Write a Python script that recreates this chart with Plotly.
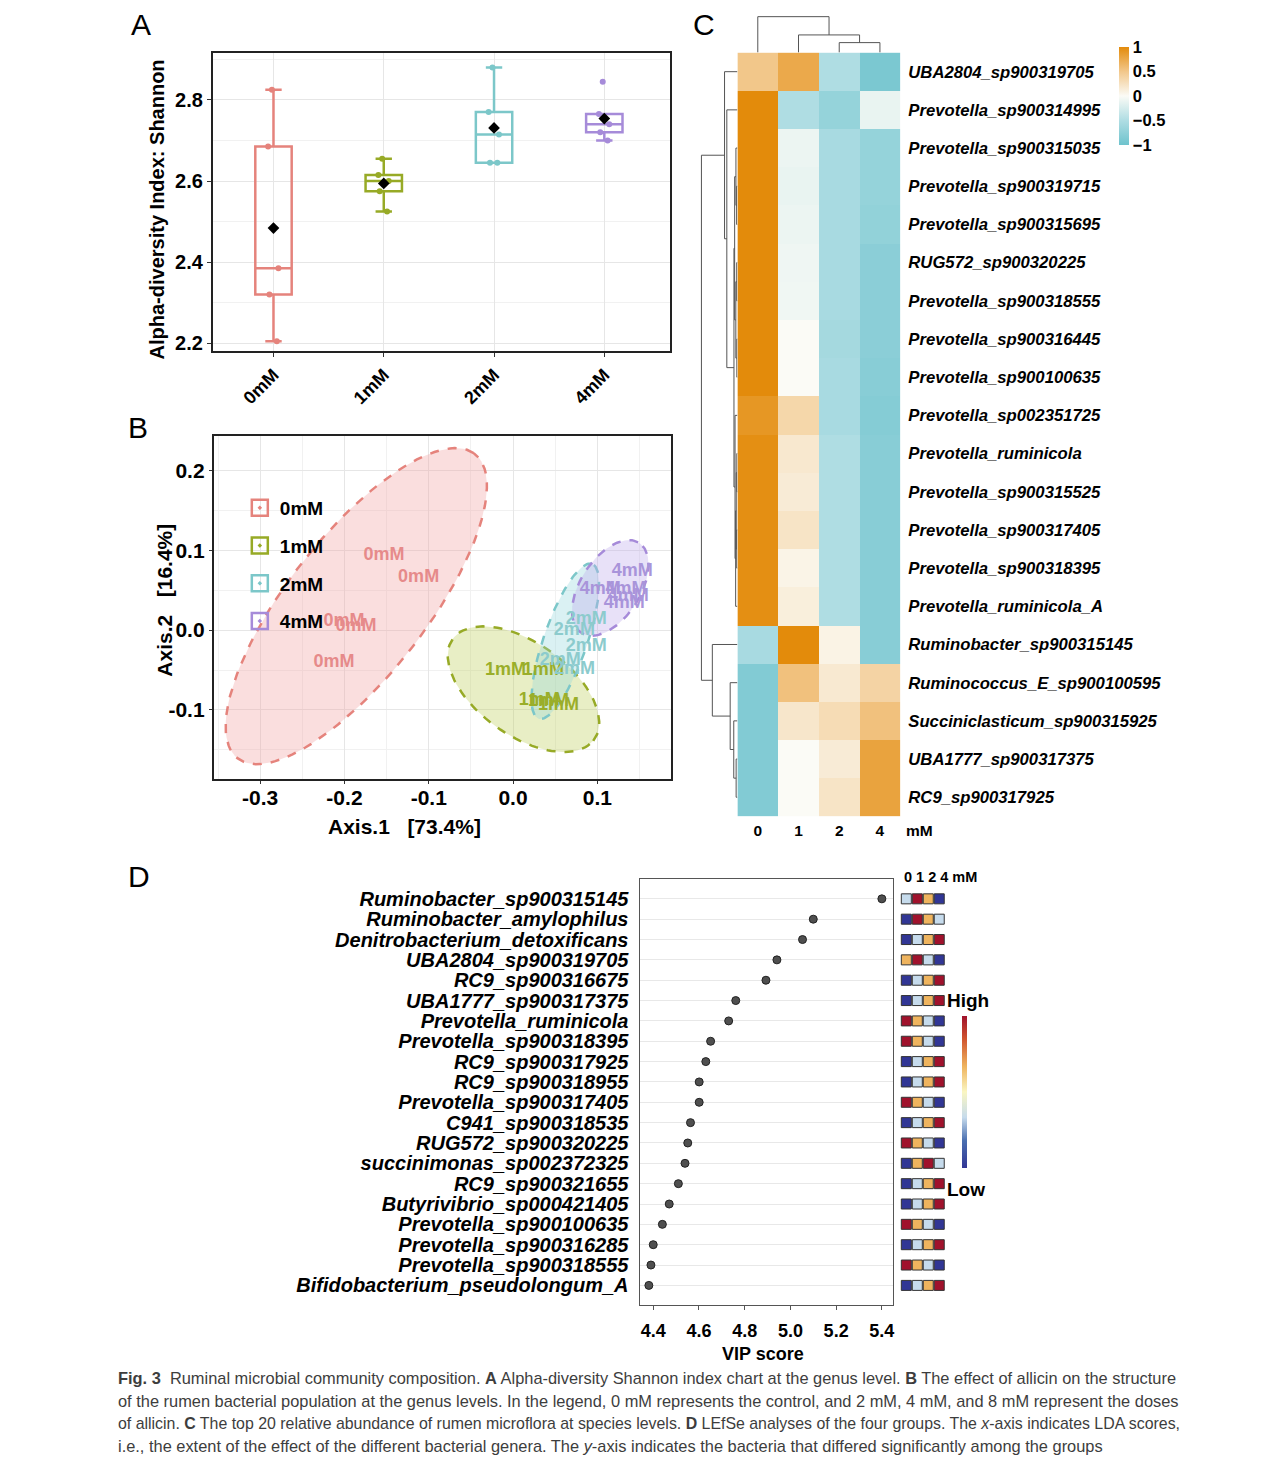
import numpy as np
import plotly.graph_objects as go

W, H = 1280, 1469


def fx(p):
    return p / W


def fy(p):
    return 1 - p / H


FONT = "Liberation Sans, Arial, sans-serif"

groups = ['0mM', '1mM', '2mM', '4mM']
group_colors = ['#E5837C', '#97AA26', '#7CC7C9', '#A68BD9']
text_colors = ['#E68A8A', '#9AAE2A', '#8CCBCD', '#A994DA']
fill_colors = ['rgba(240,160,160,0.35)', 'rgba(190,205,90,0.35)',
               'rgba(150,215,220,0.35)', 'rgba(190,170,235,0.35)']

# ---- A: Shannon index per sample
shannon_0mM = [2.205, 2.32, 2.385, 2.685, 2.825]
shannon_1mM = [2.525, 2.575, 2.60, 2.615, 2.655]
shannon_2mM = [2.645, 2.645, 2.715, 2.77, 2.88]
shannon_4mM = [2.70, 2.72, 2.74, 2.765, 2.845]
shannon = [shannon_0mM, shannon_1mM, shannon_2mM, shannon_4mM]

# ---- B: PCoA sample positions (labels drawn at the points)
pcoa_x = [
    [-0.153, -0.112, -0.2006, -0.1864, -0.2124],
    [-0.009, 0.036, 0.031, 0.042, 0.054],
    [0.087, 0.0728, 0.087, 0.056, 0.073],
    [0.1414, 0.1036, 0.134, 0.1367, 0.132],
]
pcoa_y = [
    [0.093, 0.066, 0.011, 0.0046, -0.040],
    [-0.0508, -0.0508, -0.088, -0.090, -0.094],
    [0.0134, 0.0, -0.020, -0.038, -0.049],
    [0.0734, 0.051, 0.051, 0.042, 0.033],
]
pcoa_xticks = [-0.3, -0.2, -0.1, 0.0, 0.1]
pcoa_yticks = [-0.1, 0.0, 0.1, 0.2]
# confidence ellipses: centre, semi axes, angle (deg)
ell_cx = [-0.186, 0.0124, 0.062, 0.1154]
ell_cy = [0.030, -0.074, -0.014, 0.0528]
ell_a = [0.237, 0.105, 0.102, 0.066]
ell_b = [0.084, 0.057, 0.026, 0.036]
ell_ang = [54, -38, 72, 60]

# ---- C: heatmap of top 20 species (row z-scores)
heat_cols = ['0', '1', '2', '4']
heat_rows = [
    'UBA2804_sp900319705', 'Prevotella_sp900314995', 'Prevotella_sp900315035',
    'Prevotella_sp900319715', 'Prevotella_sp900315695', 'RUG572_sp900320225',
    'Prevotella_sp900318555', 'Prevotella_sp900316445', 'Prevotella_sp900100635',
    'Prevotella_sp002351725', 'Prevotella_ruminicola', 'Prevotella_sp900315525',
    'Prevotella_sp900317405', 'Prevotella_sp900318395', 'Prevotella_ruminicola_A',
    'Ruminobacter_sp900315145', 'Ruminococcus_E_sp900100595',
    'Succiniclasticum_sp900315925', 'UBA1777_sp900317375', 'RC9_sp900317925',
]
heat_z = [
    [0.5, 0.75, -0.5, -0.9],
    [1.0, -0.5, -0.7, -0.12],
    [1.0, -0.1, -0.55, -0.7],
    [1.0, -0.12, -0.55, -0.7],
    [1.0, -0.1, -0.55, -0.72],
    [1.0, -0.08, -0.55, -0.78],
    [1.0, -0.07, -0.55, -0.78],
    [1.0, 0.0, -0.58, -0.78],
    [1.0, 0.0, -0.55, -0.8],
    [0.9, 0.35, -0.55, -0.82],
    [0.97, 0.18, -0.5, -0.8],
    [0.97, 0.15, -0.5, -0.8],
    [0.97, 0.22, -0.5, -0.8],
    [0.97, 0.07, -0.5, -0.8],
    [0.97, 0.12, -0.5, -0.8],
    [-0.55, 1.0, 0.08, -0.8],
    [-0.85, 0.55, 0.17, 0.38],
    [-0.85, 0.2, 0.3, 0.55],
    [-0.85, 0.0, 0.15, 0.8],
    [-0.85, 0.0, 0.22, 0.8],
]
# hierarchical clustering merges: (left, right, height)
row_merges = [
    (3, 4, 0.8), (2, 20, 1.5), (5, 6, 0.7), (7, 8, 0.6), (22, 23, 1.6),
    (21, 24, 2.8), (10, 11, 0.6), (12, 13, 0.7), (26, 27, 1.2), (28, 14, 1.8),
    (9, 29, 2.4), (25, 30, 3.5), (1, 31, 10.7), (0, 32, 13.0), (18, 19, 1.3),
    (17, 34, 3.7), (16, 35, 7.3), (15, 36, 25.3), (33, 37, 36.3),
]
col_merges = [(2, 3, 10.0), (1, 4, 17.7), (0, 5, 36.0)]

# ---- D: VIP scores and group ranks (1 = low, 4 = high)
vip_taxa = [
    'Ruminobacter_sp900315145', 'Ruminobacter_amylophilus',
    'Denitrobacterium_detoxificans', 'UBA2804_sp900319705', 'RC9_sp900316675',
    'UBA1777_sp900317375', 'Prevotella_ruminicola', 'Prevotella_sp900318395',
    'RC9_sp900317925', 'RC9_sp900318955', 'Prevotella_sp900317405',
    'C941_sp900318535', 'RUG572_sp900320225', 'succinimonas_sp002372325',
    'RC9_sp900321655', 'Butyrivibrio_sp000421405', 'Prevotella_sp900100635',
    'Prevotella_sp900316285', 'Prevotella_sp900318555',
    'Bifidobacterium_pseudolongum_A',
]
vip_score = [5.40, 5.10, 5.053, 4.941, 4.893, 4.761, 4.730, 4.651, 4.630, 4.601,
             4.601, 4.563, 4.551, 4.539, 4.510, 4.47, 4.44, 4.40, 4.39, 4.381]
vip_rank = [
    [2, 4, 3, 1], [1, 4, 3, 2], [1, 2, 3, 4], [3, 4, 2, 1], [1, 2, 3, 4],
    [1, 2, 3, 4], [4, 3, 2, 1], [4, 3, 2, 1], [1, 2, 3, 4], [1, 2, 3, 4],
    [4, 3, 2, 1], [1, 2, 3, 4], [4, 3, 2, 1], [1, 3, 4, 2], [1, 2, 3, 4],
    [1, 2, 3, 4], [4, 3, 2, 1], [1, 2, 3, 4], [4, 3, 2, 1], [1, 2, 3, 4],
]
rank_cols = ['0', '1', '2', '4']

caption_lines = [
    "<b>Fig. 3</b>  Ruminal microbial community composition. <b>A</b> Alpha-diversity Shannon index chart at the genus level. <b>B</b> The effect of allicin on the structure",
    "of the rumen bacterial population at the genus levels. In the legend, 0 mM represents the control, and 2 mM, 4 mM, and 8 mM represent the doses",
    "of allicin. <b>C</b> The top 20 relative abundance of rumen microflora at species levels. <b>D</b> LEfSe analyses of the four groups. The <i>x</i>-axis indicates LDA scores,",
    "i.e., the extent of the effect of the different bacterial genera. The <i>y</i>-axis indicates the bacteria that differed significantly among the groups",
]
caption_sizes = [16.4, 16.4, 15.9, 16.4]


def ellipse_path(cx, cy, a, b, ang, n=120):
    t = np.linspace(0, 2 * np.pi, n)
    th = np.radians(ang)
    x = cx + a * np.cos(t) * np.cos(th) - b * np.sin(t) * np.sin(th)
    y = cy + a * np.cos(t) * np.sin(th) + b * np.sin(t) * np.cos(th)
    return x, y


def dendro_links(merges, n_leaves):
    pos = {i: float(i) for i in range(n_leaves)}
    hgt = {i: 0.0 for i in range(n_leaves)}
    hs, ps = [], []
    for k, (l, r, h) in enumerate(merges):
        hs += [hgt[l], h, h, hgt[r], None]
        ps += [pos[l], pos[l], pos[r], pos[r], None]
        pos[n_leaves + k] = (pos[l] + pos[r]) / 2
        hgt[n_leaves + k] = h
    return hs, ps


fig = go.Figure()

# ---------------- A
for g, vals, c in zip(groups, shannon, group_colors):
    fig.add_trace(go.Box(
        x=[g] * len(vals), y=vals, name=g, xaxis='x', yaxis='y',
        quartilemethod='inclusive',
        boxpoints='all', jitter=0.35, pointpos=0, width=0.33, whiskerwidth=0.45,
        fillcolor='rgba(255,255,255,0)', line=dict(color=c, width=2.5),
        marker=dict(color=c, size=6), showlegend=False,
    ))
fig.add_trace(go.Scatter(
    x=groups, y=[float(np.mean(v)) for v in shannon], mode='markers',
    marker=dict(symbol='diamond', size=9, color='black'),
    xaxis='x', yaxis='y', showlegend=False,
))

# ---------------- B
for i, g in enumerate(groups):
    ex, ey = ellipse_path(ell_cx[i], ell_cy[i], ell_a[i], ell_b[i], ell_ang[i])
    fig.add_trace(go.Scatter(
        x=ex, y=ey, mode='lines', fill='toself', fillcolor=fill_colors[i],
        line=dict(color=group_colors[i], width=2.5, dash='dash'),
        xaxis='x2', yaxis='y2', showlegend=False, hoverinfo='skip',
    ))
for i, g in enumerate(groups):
    fig.add_trace(go.Scatter(
        x=pcoa_x[i], y=pcoa_y[i], mode='text', text=[g] * len(pcoa_x[i]),
        textfont=dict(family=FONT, size=18, color=text_colors[i], weight='bold'),
        xaxis='x2', yaxis='y2', showlegend=False,
    ))
    fig.add_trace(go.Scatter(
        x=[None], y=[None], mode='markers', name=g, legendgroup=g,
        marker=dict(symbol='square-open-dot', size=16, color=group_colors[i],
                    line=dict(width=2.5, color=group_colors[i])),
        xaxis='x2', yaxis='y2', showlegend=True,
    ))

# ---------------- C
fig.add_trace(go.Heatmap(
    z=heat_z, x=list(range(len(heat_cols))), y=list(range(len(heat_rows))),
    zmin=-1, zmax=1, xaxis='x3', yaxis='y3',
    colorscale=[[0, '#6EC3CD'], [0.25, '#AFDDE3'], [0.5, '#FBFBF6'],
                [0.75, '#F2C78A'], [1, '#E38B0B']],
    colorbar=dict(x=fx(1120), xanchor='left', y=fy(96), yanchor='middle',
                  len=98, lenmode='pixels', thickness=10, outlinewidth=0,
                  ypad=0, xpad=0,
                  tickvals=[-1, -0.5, 0, 0.5, 1],
                  ticktext=['\u22121', '\u22120.5', '0', '0.5', '1'],
                  ticks='',
                  tickfont=dict(family=FONT, size=16.5, color='black', weight='bold')),
))
rh, rp = dendro_links(row_merges, len(heat_rows))
fig.add_trace(go.Scatter(x=rh, y=rp, mode='lines', line=dict(color='#555', width=1),
                         xaxis='x4', yaxis='y4', showlegend=False, hoverinfo='skip'))
ch, cp = dendro_links(col_merges, len(heat_cols))
fig.add_trace(go.Scatter(x=cp, y=ch, mode='lines', line=dict(color='#555', width=1),
                         xaxis='x5', yaxis='y5', showlegend=False, hoverinfo='skip'))

# ---------------- D
fig.add_trace(go.Scatter(
    x=vip_score, y=list(range(len(vip_taxa))), mode='markers',
    marker=dict(size=8, color='#4F4F4F', line=dict(color='#222', width=1)),
    xaxis='x6', yaxis='y6', showlegend=False,
))
sq_x, sq_y, sq_c = [], [], []
for r, ranks in enumerate(vip_rank):
    for c, v in enumerate(ranks):
        sq_x.append(c)
        sq_y.append(r)
        sq_c.append(v)
fig.add_trace(go.Scatter(
    x=sq_x, y=sq_y, mode='markers', xaxis='x7', yaxis='y7', showlegend=False,
    marker=dict(symbol='square', size=10, color=sq_c, cmin=1, cmax=4,
                line=dict(color='#333', width=1),
                colorscale=[[0, '#313695'], [0.18, '#4A6FB0'], [0.333, '#C6DBEC'],
                            [0.5, '#FAF6C2'], [0.667, '#EFB45E'], [0.85, '#D0542E'],
                            [1, '#A0122C']],
                showscale=True,
                colorbar=dict(x=fx(963), xanchor='left', y=fy(1094), yanchor='middle',
                              len=152, lenmode='pixels', thickness=5, outlinewidth=0,
                              xpad=0, ypad=0, showticklabels=False, ticks='')),
))

# ---------------- axes
grid = '#E6E6E6'
minor_grid = '#F1F1F1'
bold = dict(family=FONT, color='black', weight='bold')

fig.update_layout(
    width=W, height=H, margin=dict(l=0, r=0, t=0, b=0),
    paper_bgcolor='white', plot_bgcolor='white',
    font=dict(family=FONT, color='black'),
    xaxis=dict(domain=[fx(213), fx(671)], type='category', categoryorder='array',
               categoryarray=groups, range=[-0.55, 3.6], showgrid=True, gridcolor=grid,
               showline=True, mirror=True, linecolor='#222', linewidth=2,
               ticks='outside', ticklen=4, tickcolor='#333', tickangle=-45,
               tickfont=dict(size=18, **bold), zeroline=False),
    yaxis=dict(domain=[fy(352), fy(53)], range=[2.18, 2.916], tick0=2.2, dtick=0.2,
               tickformat='.1f', showgrid=True, gridcolor=grid,
               minor=dict(dtick=0.1, showgrid=True, gridcolor=minor_grid),
               showline=True, mirror=True, linecolor='#222', linewidth=2,
               ticks='outside', ticklen=4, tickcolor='#333',
               tickfont=dict(size=20, **bold), zeroline=False),
    xaxis2=dict(domain=[fx(214), fx(672)], anchor='y2', range=[-0.355, 0.188],
                tickvals=pcoa_xticks, ticktext=['%.1f' % v for v in pcoa_xticks],
                showgrid=True, gridcolor=grid,
                minor=dict(dtick=0.05, tick0=0, showgrid=True, gridcolor=minor_grid),
                showline=True, mirror=True, linecolor='#222', linewidth=2,
                ticks='outside', ticklen=3, tickcolor='#333', ticklabelstandoff=-5,
                tickfont=dict(size=21, **bold), zeroline=False),
    yaxis2=dict(domain=[fy(781), fy(437)], anchor='x2', range=[-0.187, 0.243],
                tickvals=pcoa_yticks, ticktext=['%.1f' % v for v in pcoa_yticks],
                showgrid=True, gridcolor=grid,
                minor=dict(dtick=0.05, tick0=0, showgrid=True, gridcolor=minor_grid),
                showline=True, mirror=True, linecolor='#222', linewidth=2,
                ticks='outside', ticklen=3, tickcolor='#333',
                tickfont=dict(size=21, **bold), zeroline=False),
    xaxis3=dict(domain=[fx(738), fx(901)], anchor='y3', range=[-0.5, 3.5],
                tickvals=list(range(len(heat_cols))), ticktext=heat_cols,
                showgrid=False, zeroline=False, ticks='', ticklabelstandoff=3,
                tickfont=dict(size=15.5, **bold)),
    yaxis3=dict(domain=[fy(818), fy(52.7)], anchor='x3', range=[19.5, -0.5],
                side='right', tickvals=list(range(len(heat_rows))), ticktext=heat_rows,
                showgrid=False, zeroline=False, ticks='', ticklabelstandoff=7,
                tickfont=dict(size=16.7, style='italic', **bold)),
    xaxis4=dict(domain=[fx(700), fx(738)], anchor='y4', range=[38.3, 0],
                visible=False),
    yaxis4=dict(domain=[fy(818), fy(52.7)], anchor='x4', range=[19.5, -0.5],
                visible=False),
    xaxis5=dict(domain=[fx(738), fx(901)], anchor='y5', range=[-0.5, 3.5],
                visible=False),
    yaxis5=dict(domain=[fy(52.7), fy(16)], anchor='x5', range=[0, 36.7],
                visible=False),
    xaxis6=dict(domain=[fx(640), fx(894)], anchor='y6', range=[4.34, 5.45],
                tick0=4.4, dtick=0.2, tickformat='.1f', showgrid=False,
                showline=True, mirror=True, linecolor='#555', linewidth=1,
                ticks='outside', ticklen=4, tickcolor='#555', zeroline=False,
                ticklabelstandoff=5,
                tickfont=dict(size=18, **bold)),
    yaxis6=dict(domain=[fy(1308), fy(880.7)], anchor='x6', range=[19.98, -0.98],
                tickvals=list(range(len(vip_taxa))), ticktext=vip_taxa,
                showgrid=True, gridcolor='#E8E8E8', zeroline=False, ticks='',
                showline=True, mirror=True, linecolor='#555', linewidth=1,
                ticklabelstandoff=6,
                tickfont=dict(size=20, style='italic', **bold)),
    xaxis7=dict(domain=[fx(900), fx(947)], anchor='y7', range=[-0.64, 3.64],
                visible=False),
    yaxis7=dict(domain=[fy(1308), fy(880.7)], anchor='x7', range=[19.98, -0.98],
                visible=False),
    legend=dict(x=fx(240), y=fy(490), xanchor='left', yanchor='top',
                bgcolor='rgba(0,0,0,0)', traceorder='grouped', tracegroupgap=10,
                font=dict(size=19, **bold)),
)


def note(text, x, y, size, angle=0, xanchor='center', weight='bold', color='black',
         family=FONT):
    fig.add_annotation(text=text, x=fx(x), y=fy(y), xref='paper', yref='paper',
                       showarrow=False, textangle=angle, xanchor=xanchor,
                       yanchor='middle',
                       font=dict(family=family, size=size, color=color, weight=weight))


note('A', 141, 25, 30, weight='normal')
note('B', 138, 428, 30, weight='normal')
note('C', 705, 25, 30, weight='normal')
note('D', 139, 878, 30, weight='normal')
note('Alpha-diversity Index: Shannon', 157, 210, 20, angle=-90)
note('Axis.1   [73.4%]', 405, 828, 21)
note('Axis.2   [16.4%]', 165, 601, 21, angle=-90)
note('mM', 920, 832, 15.5)
note('0 1 2 4 mM', 903, 879, 14.5, xanchor='left')
note('High', 946, 1003, 19, xanchor='left')
note('Low', 946, 1192, 19, xanchor='left')
note('VIP score', 764, 1357, 18)
for k, line in enumerate(caption_lines):
    note(line, 116, 1381 + k * 22.7, caption_sizes[k], xanchor='left', weight='normal',
         color='#3d3d3d')

fig.write_html("out.html", config={'displayModeBar': False},
               post_script="document.body.style.margin='0';")
